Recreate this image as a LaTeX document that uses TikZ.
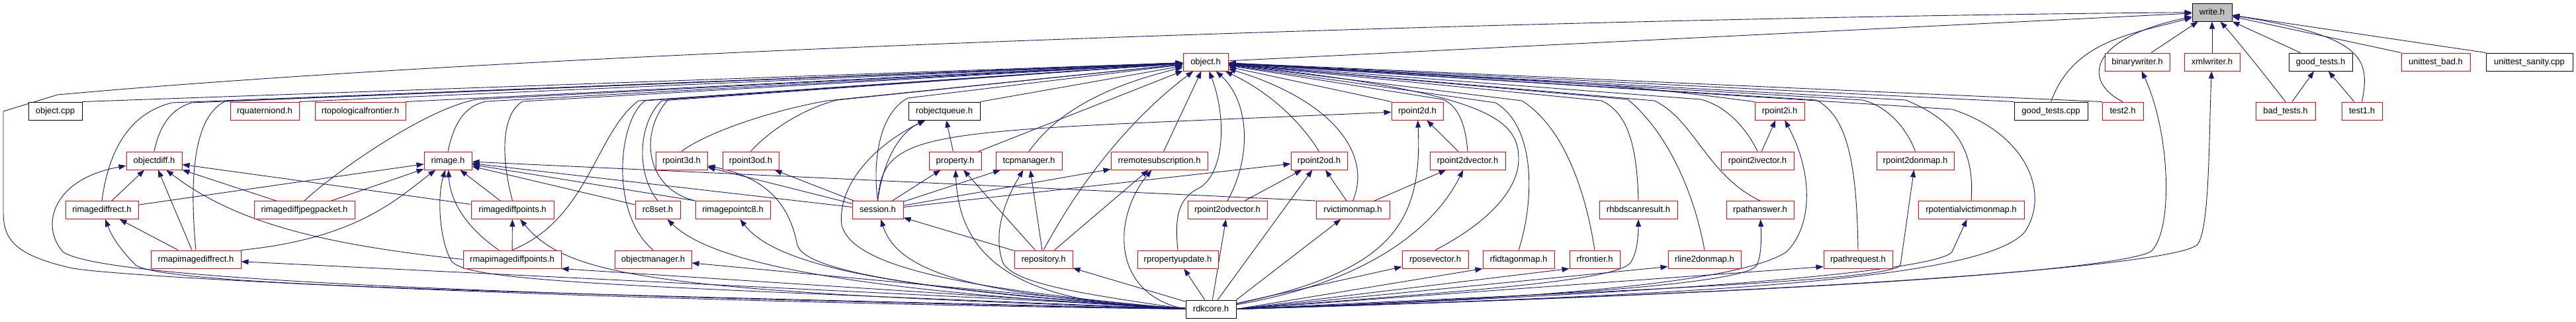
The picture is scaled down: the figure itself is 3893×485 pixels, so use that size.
\documentclass[tikz,border=0pt]{standalone}
\usepackage{fontspec}
\setmainfont{Liberation Sans}
\usepackage{tikz}
\usetikzlibrary{arrows.meta, backgrounds}
\definecolor{edgeblue}{HTML}{191970}
\definecolor{boxred}{HTML}{FF0000}
\definecolor{boxgray}{HTML}{BFBFBF}

\begin{document}
\begin{tikzpicture}[
        x=1pt, y=1pt,
        filebox/.style={rectangle, draw, line width=1pt, fill=white, minimum height=27pt, inner sep=0pt, text height=10pt, text depth=3pt, font=\fontsize{13}{15}\selectfont},
        redfile/.style={filebox, draw=boxred},
        blackfile/.style={filebox, draw=black},
        arrow/.style={draw=edgeblue, line width=0.9pt, -{Triangle[length=11pt, width=8pt]}}
    ]
        \useasboundingbox (0,0) rectangle (3893,-485);

        % Livello 0
        \node[blackfile, fill=boxgray, minimum width=60pt] (w) at (3343,-18.5) {write.h};

        % Livello 1
        \node[redfile, minimum width=68pt] (objh) at (1822,-93.5) {object.h};
        \node[redfile, minimum width=98pt] (binw) at (3230,-93.5) {binarywriter.h};
        \node[redfile, minimum width=84pt] (xmlw) at (3343,-93.5) {xmlwriter.h};
        \node[blackfile, minimum width=96pt] (goodh) at (3507,-93.5) {good\_tests.h};
        \node[redfile, minimum width=104pt] (utbad) at (3681,-93.5) {unittest\_bad.h};
        \node[blackfile, minimum width=131pt] (utsan) at (3822.5,-93.5) {unittest\_sanity.cpp};

        % Livello 2
        \node[blackfile, minimum width=81pt] (objcpp) at (83.5,-167.5) {object.cpp};
        \node[redfile, minimum width=104pt] (rquat) at (400,-167.5) {rquaterniond.h};
        \node[redfile, minimum width=137pt] (rtopo) at (544.5,-167.5) {rtopologicalfrontier.h};
        \node[blackfile, minimum width=108pt] (robjq) at (1427,-167.5) {robjectqueue.h};
        \node[redfile, minimum width=78pt] (rp2d) at (2142,-167.5) {rpoint2d.h};
        \node[redfile, minimum width=75pt] (rp2i) at (2689.5,-167.5) {rpoint2i.h};
        \node[blackfile, minimum width=111pt] (goodcpp) at (3099.5,-167.5) {good\_tests.cpp};
        \node[redfile, minimum width=62pt] (test2) at (3208,-167.5) {test2.h};
        \node[redfile, minimum width=90pt] (badt) at (3454,-167.5) {bad\_tests.h};
        \node[redfile, minimum width=61pt] (test1) at (3569.5,-167.5) {test1.h};

        % Livello 3
        \node[redfile, minimum width=84pt] (objdiff) at (233,-242.5) {objectdiff.h};
        \node[redfile, minimum width=72pt] (rimage) at (677,-242.5) {rimage.h};
        \node[redfile, minimum width=78pt] (rp3d) at (1030,-242.5) {rpoint3d.h};
        \node[redfile, minimum width=85pt] (rp3od) at (1134.5,-242.5) {rpoint3od.h};
        \node[redfile, minimum width=79pt] (prop) at (1443.5,-242.5) {property.h};
        \node[redfile, minimum width=100pt] (tcpm) at (1555,-242.5) {tcpmanager.h};
        \node[redfile, minimum width=146pt] (rremsub) at (1752,-242.5) {rremotesubscription.h};
        \node[redfile, minimum width=85pt] (rp2od) at (1993.5,-242.5) {rpoint2od.h};
        \node[redfile, minimum width=114pt] (rp2dvec) at (2218,-242.5) {rpoint2dvector.h};
        \node[redfile, minimum width=110pt] (rp2ivec) at (2656,-242.5) {rpoint2ivector.h};
        \node[redfile, minimum width=117pt] (rp2donmap) at (2894.5,-242.5) {rpoint2donmap.h};

        % Livello 4
        \node[redfile, minimum width=110pt] (rimgdr) at (154,-317) {rimagediffrect.h};
        \node[redfile, minimum width=152pt] (rimgjpeg) at (460,-317) {rimagediffjpegpacket.h};
        \node[redfile, minimum width=125pt] (rimgdp) at (774.5,-317) {rimagediffpoints.h};
        \node[redfile, minimum width=68pt] (rc8set) at (994,-317) {rc8set.h};
        \node[redfile, minimum width=113pt] (rimgpc8) at (1107.5,-317) {rimagepointc8.h};
        \node[redfile, minimum width=77pt] (session) at (1326.5,-317) {session.h};
        \node[redfile, minimum width=120pt] (rp2odvec) at (1855,-317) {rpoint2odvector.h};
        \node[redfile, minimum width=111pt] (rvictim) at (2044.5,-317) {rvictimonmap.h};
        \node[redfile, minimum width=118pt] (rhbds) at (2476,-317) {rhbdscanresult.h};
        \node[redfile, minimum width=102pt] (rpathans) at (2660,-317) {rpathanswer.h};
        \node[redfile, minimum width=160pt] (rpotvic) at (2979,-317) {rpotentialvictimonmap.h};

        % Livello 5
        \node[redfile, minimum width=136pt] (rmapdr) at (296,-391.5) {rmapimagediffrect.h};
        \node[redfile, minimum width=148pt] (rmapdp) at (774,-391.5) {rmapimagediffpoints.h};
        \node[redfile, minimum width=116pt] (objman) at (987,-391.5) {objectmanager.h};
        \node[redfile, minimum width=88pt] (repo) at (1577,-391.5) {repository.h};
        \node[redfile, minimum width=122pt] (rpropupd) at (1780,-391.5) {rpropertyupdate.h};
        \node[redfile, minimum width=100pt] (rposevec) at (2169,-391.5) {rposevector.h};
        \node[redfile, minimum width=108pt] (rfid) at (2295,-391.5) {rfidtagonmap.h};
        \node[redfile, minimum width=76pt] (rfront) at (2410,-391.5) {rfrontier.h};
        \node[redfile, minimum width=110pt] (rline) at (2576,-391.5) {rline2donmap.h};
        \node[redfile, minimum width=104pt] (rpathreq) at (2808,-391.5) {rpathrequest.h};

        % Livello 6
        \node[blackfile, minimum width=76pt] (rdk) at (1830,-466.5) {rdkcore.h};

        \begin{scope}[on background layer]
        \fill[white] (0,0) rectangle (3893,-485);

        % Frecce verso write.h
        \draw[arrow] (objh) -- (w);
        \draw[arrow] (binw) -- (w);
        \draw[arrow] (xmlw) -- (w);
        \draw[arrow] (goodh) -- (w);
        \draw[arrow] (utbad.north west) -- (w);
        \draw[arrow] (utsan.north west) -- (w);
        \draw[arrow] (goodcpp.north) to[out=70, in=195] (w);
        \draw[arrow] (test2.north) .. controls (3150,-125) and (3150,-60) .. (w);
        \draw[arrow] (badt.north) .. controls (3420,-110) and (3380,-60) .. (w);
        \draw[arrow] (test1.north) .. controls (3582,-90) and (3575,-55) .. (w);
        \draw[arrow] (rdk.west) .. controls (900,-455) and (200,-420) .. (110,-405) .. controls (20,-385) and (5,-360) .. (5,-320) -- (5,-168) -- (87,-143) .. controls (900,-70) and (2500,-25) .. (w);

        % Frecce verso object.h (sinistra)
        \draw[arrow] (objcpp.north east) -- (objh);
        \draw[arrow] (rquat.north east) -- (objh);
        \draw[arrow] (rtopo.north east) -- (objh);
        \draw[arrow] (objdiff.north) .. controls (240,-195) and (255,-165) .. (290,-155) -- (objh);
        \draw[arrow] (rimgdr.north) .. controls (165,-220) and (200,-170) .. (260,-155) -- (objh);
        \draw[arrow] (rmapdr.north) .. controls (285,-260) and (295,-175) .. (340,-153) -- (objh);
        \draw[arrow] (rimgjpeg.north) .. controls (500,-265) and (640,-165) .. (720,-150) -- (objh);
        \draw[arrow] (rimage.north) .. controls (685,-190) and (700,-160) .. (735,-153) -- (objh);
        \draw[arrow] (rimgdp.north) .. controls (755,-230) and (760,-170) .. (790,-153) -- (objh);
        \draw[arrow] (rmapdp.north) .. controls (890,-330) and (900,-200) .. (965,-152) -- (objh);
        \draw[arrow] (objman.north) .. controls (920,-320) and (935,-180) .. (975,-152) -- (objh);
        \draw[arrow] (rc8set.north) .. controls (960,-260) and (965,-185) .. (1000,-152) -- (objh);
        \draw[arrow] (rimgpc8.north west) .. controls (975,-285) and (965,-200) .. (1010,-150) -- (objh);
        \draw[arrow] (rp3d.north) .. controls (1060,-205) and (1150,-170) .. (1250,-152) -- (objh);
        \draw[arrow] (rp3od.north) .. controls (1160,-200) and (1210,-165) .. (1265,-151) -- (objh);
        \draw[arrow] (session.north) .. controls (1318,-240) and (1330,-170) .. (1372,-148) -- (objh);
        \draw[arrow] (robjq.north east) -- (objh);
        \draw[arrow] (prop) -- (objh);
        \draw[arrow] (tcpm.north) .. controls (1590,-180) and (1650,-135) .. (objh);
        \draw[arrow] (repo.north) .. controls (1640,-260) and (1720,-170) .. (objh);
        \draw[arrow] (rremsub) -- (objh);
        \draw[arrow] (rpropupd.north) .. controls (1775,-330) and (1780,-300) .. (1810,-285) .. controls (1850,-265) and (1855,-180) .. (objh);
        \draw[arrow] (rp2odvec.north) .. controls (1895,-230) and (1885,-150) .. (objh);

        % Frecce verso object.h (destra)
        \draw[arrow] (rp2od.north) .. controls (1960,-175) and (1910,-135) .. (objh);
        \draw[arrow] (rvictim.north) .. controls (2075,-230) and (2010,-150) .. (objh);
        \draw[arrow] (rp2d.north west) -- (objh);
        \draw[arrow] (rp2dvec.north) .. controls (2215,-190) and (2205,-160) .. (2180,-150) -- (objh);
        \draw[arrow] (rposevec.north) .. controls (2260,-330) and (2295,-280) .. (2295,-240) .. controls (2295,-180) and (2250,-140) .. (objh);
        \draw[arrow] (rfid.north) .. controls (2320,-300) and (2320,-190) .. (2260,-155) -- (objh);
        \draw[arrow] (rfront.north) .. controls (2395,-280) and (2360,-190) .. (2300,-152) -- (objh);
        \draw[arrow] (rhbds.north) .. controls (2474,-220) and (2460,-170) .. (2420,-152) -- (objh);
        \draw[arrow] (rline.north) .. controls (2560,-290) and (2520,-200) .. (2460,-150) -- (objh);
        \draw[arrow] (rpathans.north) .. controls (2580,-265) and (2560,-180) .. (2500,-152) -- (objh);
        \draw[arrow] (rp2ivec.north) .. controls (2640,-195) and (2610,-160) .. (2570,-150) -- (objh);
        \draw[arrow] (rp2i.north west) .. controls (2450,-128) .. (objh);
        \draw[arrow] (rpathreq.north) .. controls (2806,-240) and (2790,-175) .. (2745,-151) -- (objh);
        \draw[arrow] (rp2donmap.north) .. controls (2880,-190) and (2850,-160) .. (2815,-151) -- (objh);
        \draw[arrow] (rpotvic.north) .. controls (2985,-220) and (2950,-180) .. (2880,-151) -- (objh);
        \draw[arrow] (goodcpp.north west) -- (objh);
        \draw[arrow] (test2.north west) -- (objh);
        \draw[arrow] (rdk.east) .. controls (2600,-445) and (3000,-420) .. (3060,-350) .. controls (3100,-290) and (3060,-200) .. (2950,-165) -- (objh);

        % objectdiff.h e rimage.h
        \draw[arrow] (rimgdr) -- (objdiff);
        \draw[arrow] (rmapdr) -- (objdiff);
        \draw[arrow] (rimgdp) -- (objdiff);
        \draw[arrow] (rimgjpeg) -- (objdiff);
        \draw[arrow] (rmapdp.west) .. controls (500,-370) and (360,-340) .. (objdiff);
        \draw[arrow] (rdk.west) .. controls (700,-445) and (150,-420) .. (95,-380) .. controls (60,-340) and (80,-270) .. (objdiff);
        \draw[arrow] (rimgdr) -- (rimage);
        \draw[arrow] (rimgjpeg) -- (rimage);
        \draw[arrow] (rmapdr.north east) .. controls (540,-360) and (600,-300) .. (rimage);
        \draw[arrow] (rmapdp) .. controls (700,-340) and (680,-300) .. (rimage);
        \draw[arrow] (rimgdp) -- (rimage);
        \draw[arrow] (rc8set) -- (rimage);
        \draw[arrow] (rimgpc8.north west) -- (rimage);
        \draw[arrow] (session) -- (rimage);
        \draw[arrow] (rvictim.north west) -- (rimage);
        \draw[arrow] (rdk.west) .. controls (900,-430) and (690,-425) .. (680,-390) .. controls (665,-360) and (660,-300) .. (rimage);

        % rimagediffrect.h e rimagediffpoints.h
        \draw[arrow] (rmapdr) -- (rimgdr);
        \draw[arrow] (rdk.west) .. controls (700,-440) and (250,-430) .. (205,-400) .. controls (185,-380) and (170,-360) .. (rimgdr);
        \draw[arrow] (rmapdp) -- (rimgdp);
        \draw[arrow] (rdk.west) .. controls (1000,-440) and (860,-420) .. (rimgdp);

        % session.h e vicini
        \draw[arrow] (session.north) .. controls (1335,-240) and (1360,-200) .. (robjq);
        \draw[arrow] (prop) -- (robjq);
        \draw[arrow] (session) -- (prop);
        \draw[arrow] (repo) -- (prop);
        \draw[arrow] (session) -- (tcpm);
        \draw[arrow] (repo) -- (tcpm);
        \draw[arrow] (session) -- (rremsub);
        \draw[arrow] (repo) -- (rremsub);
        \draw[arrow] (repo) -- (session);
        \draw[arrow] (session) -- (rp3d);
        \draw[arrow] (session) -- (rp3od);
        \draw[arrow] (session) -- (rp2od);
        \draw[arrow] (session.north) .. controls (1335,-190) and (1400,-200) .. (rp2d);

        % rpoint2*.h
        \draw[arrow] (rp2odvec) -- (rp2od);
        \draw[arrow] (rvictim) -- (rp2od);
        \draw[arrow] (rp2dvec) -- (rp2d);
        \draw[arrow] (rvictim) -- (rp2dvec);
        \draw[arrow] (rp2ivec) -- (rp2i);

        % test
        \draw[arrow] (badt) -- (goodh);
        \draw[arrow] (test1) -- (goodh);

        % Frecce da rdkcore.h
        \draw[arrow] (rdk) -- (rmapdr);
        \draw[arrow] (rdk.west) -- (rmapdp.south east);
        \draw[arrow] (rdk.west) -- (objman);
        \draw[arrow] (rdk.west) .. controls (1300,-440) and (1080,-400) .. (rc8set);
        \draw[arrow] (rdk.west) .. controls (1400,-440) and (1180,-410) .. (rimgpc8);
        \draw[arrow] (rdk.west) .. controls (1500,-445) and (1220,-420) .. (1205,-370) .. controls (1195,-320) and (1170,-270) .. (rp3d);
        \draw[arrow] (rdk.west) .. controls (1500,-445) and (1360,-420) .. (session);
        \draw[arrow] (rdk.west) .. controls (1500,-440) and (1290,-410) .. (1272,-340) .. controls (1265,-280) and (1320,-220) .. (robjq);
        \draw[arrow] (rdk.west) .. controls (1550,-460) and (1450,-400) .. (prop);
        \draw[arrow] (rdk.west) .. controls (1650,-445) and (1530,-430) .. (1515,-395) .. controls (1500,-350) and (1520,-300) .. (tcpm);
        \draw[arrow] (rdk) -- (repo);
        \draw[arrow] (rdk.west) .. controls (1680,-445) and (1680,-330) .. (rremsub);
        \draw[arrow] (rdk) -- (rpropupd);
        \draw[arrow] (rdk) -- (rp2odvec);
        \draw[arrow] (rdk) -- (rp2od);
        \draw[arrow] (rdk.north east) -- (rvictim);
        \draw[arrow] (rdk) .. controls (2100,-410) and (2150,-340) .. (rp2d);
        \draw[arrow] (rdk) .. controls (2100,-420) and (2180,-320) .. (rp2dvec);
        \draw[arrow] (rdk) -- (rposevec);
        \draw[arrow] (rdk.east) -- (rfid.south west);
        \draw[arrow] (rdk.east) -- (rfront.south west);
        \draw[arrow] (rdk.east) .. controls (2200,-440) and (2450,-425) .. (2465,-395) .. controls (2475,-380) and (2476,-350) .. (rhbds);
        \draw[arrow] (rdk.east) -- ([yshift=3pt]rline.south west);
        \draw[arrow] (rdk.east) .. controls (2300,-450) and (2640,-430) .. (2655,-400) .. controls (2662,-385) and (2662,-360) .. (rpathans);
        \draw[arrow] (rdk.east) -- ([yshift=3pt]rpathreq.south west);
        \draw[arrow] (rdk.east) .. controls (2400,-440) and (2860,-425) .. (2872,-400) -- (rp2donmap);
        \draw[arrow] (rdk.east) .. controls (2500,-445) and (2930,-410) .. (2950,-380) -- (rpotvic);
        \draw[arrow] (rdk.east) .. controls (2400,-450) and (2640,-420) .. (2700,-380) .. controls (2740,-340) and (2740,-260) .. (rp2i);
        \draw[arrow] (rdk.east) .. controls (2800,-440) and (3200,-405) .. (3250,-380) .. controls (3285,-350) and (3280,-200) .. (binw);
        \draw[arrow] (rdk.east) .. controls (2800,-440) and (3280,-400) .. (3320,-370) .. controls (3340,-350) and (3338,-200) .. (xmlw);
        \end{scope}
    \end{tikzpicture}
\end{document}
